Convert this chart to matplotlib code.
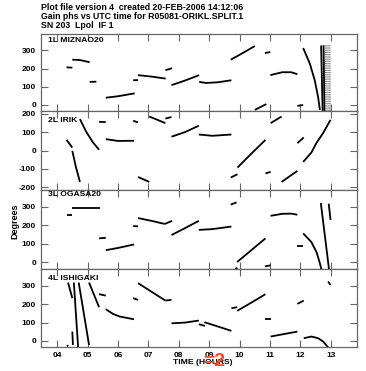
import matplotlib
matplotlib.use("Agg")
import matplotlib.pyplot as plt

plt.rcParams['font.family'] = ['Liberation Sans', 'DejaVu Sans']

TITLE_LINES = ["Plot file version 4  created 20-FEB-2006 14:12:06",
               "Gain phs vs UTC time for R05081-ORIKL.SPLIT.1",
               "SN 203  Lpol  IF 1"]
ANTENNAS = ["1L MIZNAO20", "2L IRIK", "3L OGASA20", "4L ISHIGAKI"]
HOURS = [4, 5, 6, 7, 8, 9, 10, 11, 12, 13]
HOUR_LABELS = ["04", "05", "06", "07", "08", "09", "10", "11", "12", "13"]
YTICKS_A = [0, 100, 200, 300]
YTICKS_B = [-200, -100, 0, 100, 200]

# segments: lists of (UT hour, phase deg)
MIZNAO20 = [
    [(4.31, 207), (4.50, 205)],
    [(4.50, 249), (4.75, 247), (5.07, 235)],
    [(5.07, 127), (5.29, 128)],
    [(5.60, 40), (6.00, 48), (6.55, 64)],
    [(6.50, 136), (6.66, 137)],
    [(6.66, 164), (7.10, 156), (7.57, 145)],
    [(7.56, 191), (7.78, 202)],
    [(7.76, 109), (8.20, 134), (8.67, 164)],
    [(8.67, 127), (8.90, 121), (9.30, 125), (9.73, 136)],
    [(9.71, 249), (10.10, 285), (10.50, 324)],
    [(10.50, -27), (10.88, 5)],
    [(10.83, 285), (11.01, 291)],
    [(11.01, 164), (11.40, 180), (11.70, 180), (11.90, 169)],
    [(11.90, -5), (12.09, 0)],
    [(12.09, 313), (12.31, 227), (12.47, 136), (12.58, 45), (12.64, -27)],
    [(12.68, 327), (12.73, -33)],
    [(12.76, 328), (12.79, -33)],
]
MIZNAO20_DOTTED = [
    [(12.82, 328), (12.83, -33)],
    [(12.86, 328), (12.87, -33)],
    [(12.90, 328), (12.91, -33)],
    [(12.94, 328), (12.95, -33)],
    [(12.97, 328), (12.98, -33)],
]
IRIK = [
    [(4.31, 58), (4.50, 16)],
    [(4.50, -2), (4.61, -85), (4.75, -171)],
    [(4.75, 171), (4.97, 98), (5.18, 44), (5.38, 4)],
    [(5.38, 156), (5.60, 155)],
    [(5.60, 62), (6.00, 52), (6.53, 53)],
    [(6.50, 162), (6.66, 153)],
    [(6.66, -144), (7.03, -171)],
    [(7.03, 185), (7.56, 149)],
    [(7.56, 174), (7.76, 182)],
    [(7.76, 75), (8.20, 100), (8.66, 135)],
    [(8.66, 87), (9.10, 80), (9.73, 87)],
    [(9.71, -147), (9.93, -129)],
    [(9.93, -93), (10.40, -15), (10.85, 58)],
    [(10.85, -125), (11.02, -116)],
    [(11.02, 149), (11.38, 185)],
    [(11.38, -171), (11.90, -111)],
    [(11.90, 40), (12.11, 71)],
    [(12.09, -62), (12.36, -11), (12.53, 42), (12.75, 96), (12.99, 167)],
]
OGASA20 = [
    [(4.31, 258), (4.50, 258)],
    [(4.50, 293), (5.40, 293)],
    [(5.38, 130), (5.60, 133)],
    [(5.60, 66), (6.00, 78), (6.53, 97)],
    [(6.50, 197), (6.66, 195)],
    [(6.66, 240), (7.10, 225), (7.54, 208)],
    [(7.54, 208), (7.78, 225)],
    [(7.76, 148), (8.20, 185), (8.66, 225)],
    [(8.66, 176), (9.10, 180), (9.73, 194)],
    [(9.71, 313), (9.90, 325)],
    [(9.85, -35), (9.93, -30)],
    [(9.92, 2), (10.40, 68), (10.85, 130)],
    [(10.83, -22), (11.02, -16)],
    [(11.02, 252), (11.40, 263), (11.70, 264), (11.90, 258)],
    [(11.90, 86), (12.09, 86)],
    [(12.09, 157), (12.36, 110), (12.53, 55), (12.64, -5), (12.69, -40)],
    [(12.67, 322), (12.94, -38)],
    [(12.93, 318), (12.99, 230)],
]
ISHIGAKI = [
    [(4.33, -22), (4.36, -30)],
    [(4.36, 318), (4.50, 233)],
    [(4.50, 51), (4.52, -22)],
    [(4.55, 318), (4.69, -33)],
    [(4.71, 318), (5.05, -22)],
    [(5.05, 318), (5.38, 184)],
    [(5.38, 255), (5.60, 247)],
    [(5.60, 173), (5.84, 147), (6.06, 133), (6.53, 118)],
    [(6.50, 233), (6.66, 224)],
    [(6.66, 315), (7.56, 220)],
    [(7.56, 220), (7.76, 224)],
    [(7.76, 96), (8.20, 100), (8.66, 111)],
    [(8.66, 91), (8.86, 82)],
    [(8.84, 102), (9.30, 78), (9.73, 55)],
    [(9.73, 178), (9.92, 184)],
    [(9.92, 164), (10.40, 210), (10.85, 255)],
    [(10.83, 118), (11.02, 118)],
    [(11.02, 24), (11.90, 51)],
    [(11.90, 202), (12.11, 220)],
    [(12.11, 15), (12.36, 24), (12.58, 15), (12.75, -4), (12.91, -35)],
    [(12.91, 324), (12.99, 305)],
]

W, H = 366, 371
fig = plt.figure(figsize=(W / 100, H / 100), dpi=100)
fig.patch.set_facecolor('white')

left_px, right_px = 41, 357
bounds = [(34, 111), (111, 190), (190, 269), (269, 347)]
panels = [MIZNAO20, IRIK, OGASA20, ISHIGAKI]
ylims = [(-33, 390), (-215, 215), (-36, 392), (-33, 392)]
yticks = [YTICKS_A, YTICKS_B, YTICKS_A, YTICKS_A]
label_y = [41, 120.5, 195, 278]

frame_col = '#666666'
for i, (top, bot) in enumerate(bounds):
    ax = fig.add_axes([left_px / W, 1 - bot / H, (right_px - left_px) / W, (bot - top) / H])
    for seg in panels[i]:
        xs = [p[0] for p in seg]
        ys = [p[1] for p in seg]
        ax.plot(xs, ys, color='black', lw=1.3, solid_capstyle='butt', clip_on=True)
    if i == 0:
        for seg in MIZNAO20_DOTTED:
            xs = [p[0] for p in seg]
            ys = [p[1] for p in seg]
            ax.plot(xs, ys, color='#777777', lw=0.8, ls=(0, (1, 1)))
    ax.set_xlim(3.47, 13.86)
    ax.set_ylim(*ylims[i])
    ax.set_xticks(HOURS)
    ax.set_yticks(yticks[i])
    ax.set_yticklabels([str(v) for v in yticks[i]], fontsize=6, fontweight='bold')
    if i == 3:
        ax.set_xticklabels(HOUR_LABELS, fontsize=6, fontweight='bold')
    else:
        ax.set_xticklabels([])
    ax.tick_params(direction='in', length=5, width=0.8, color=frame_col,
                   top=True, right=True, bottom=True, left=True, pad=3.5)
    for sp in ax.spines.values():
        sp.set_color(frame_col)
        sp.set_linewidth(0.9)
    fig.text(48 / W, 1 - label_y[i] / H, ANTENNAS[i], fontsize=6.1, fontweight='bold',
             ha='left', va='center')

for k, (line, yp) in enumerate(zip(TITLE_LINES, [7.3, 16.3, 25.3])):
    fig.text(41 / W, 1 - yp / H, line, fontsize=6.3, fontweight='bold', ha='left', va='center')

fig.text(15 / W, 1 - 221 / H, "Degrees", fontsize=6.5, fontweight='bold', rotation=90,
         ha='center', va='center')
fig.text(203 / W, 1 - 363 / H, "TIME (HOURS)", fontsize=6.1, fontweight='bold',
         ha='center', va='center')
fig.text(214 / W, 1 - 362 / H, "=2", fontsize=14, fontweight='bold', color='#f04a28',
         ha='center', va='center')

fig.savefig("out.png", dpi=100, facecolor='white')
